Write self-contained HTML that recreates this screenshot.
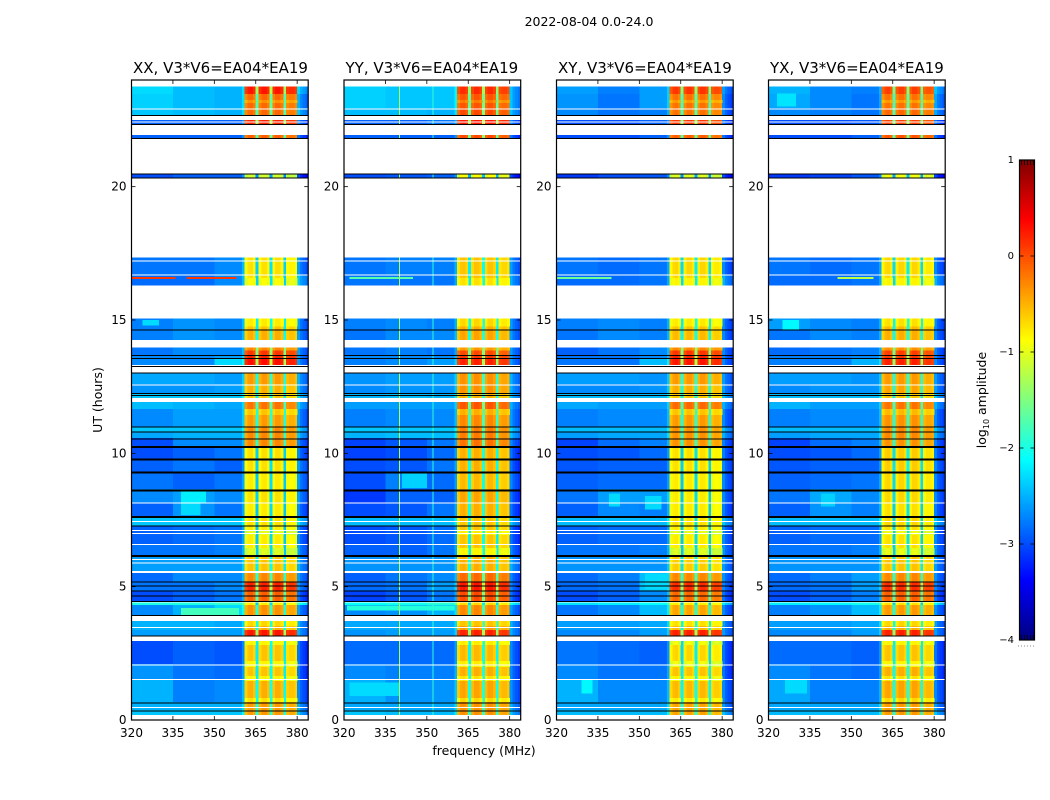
<!DOCTYPE html>
<html lang="en">
<head>
<meta charset="utf-8">
<title>2022-08-04 0.0-24.0 dynamic spectra</title>
<style>
html,body{margin:0;padding:0;background:#fff;}
body{width:1050px;height:800px;overflow:hidden;}
svg{display:block;font-family:"DejaVu Sans","Liberation Sans",sans-serif;fill:#000;}
</style>
</head>
<body>
<svg id="figure" xmlns="http://www.w3.org/2000/svg" width="1050" height="800" viewBox="0 0 1050 800">
  <text x="589" y="26" font-size="12.5" text-anchor="middle">2022-08-04 0.0-24.0</text>
  <text x="484" y="755" font-size="12.5" text-anchor="middle">frequency (MHz)</text>
  <text x="102" y="400" font-size="12.5" text-anchor="middle" transform="rotate(-90 102 400)">UT (hours)</text>
  <text x="986" y="400" font-size="12.5" text-anchor="middle" transform="rotate(-90 986 400)">log<tspan font-size="8" dy="3">10</tspan><tspan dy="-3"> amplitude</tspan></text>
  <g id="panels"></g>
  <g id="colorbar"></g>
  <line x1="1018" y1="646" x2="1035" y2="646" stroke="#888" stroke-width="1" stroke-dasharray="1 2"></line>
</svg>
<script>
// ---- chart data ----
const panelTitles = ["XX, V3*V6=EA04*EA19", "YY, V3*V6=EA04*EA19", "XY, V3*V6=EA04*EA19", "YX, V3*V6=EA04*EA19"];
const xTickLabels = [320, 335, 350, 365, 380];
const yTickLabels = [0, 5, 10, 15, 20];
const colorbarTickLabels = [1, 0, -1, -2, -3, -4];

// time ranges (UT hours) that contain data; everything else is flagged and stays white
const bandStartUT = [23.79,23.48,22.95,22.5,21.94,20.49,17.35,16.70,15.06,14.66,13.97,13.69,13.58,13.03,12.6,12.26,11.93,11.66,10.99,10.8,10.58,10.28,9.79,9.3,8.66,8.14,7.65,7.28,6.6,6.11,5.51,5.18,4.84,4.46,4.31,3.71,3.38,2.96,2.1,1.54,0.68,0.38];
const bandEndUT = [23.48,22.95,22.69,22.35,21.83,20.33,16.70,16.29,14.66,14.25,13.69,13.58,13.31,12.6,12.26,12.08,11.66,10.99,10.8,10.58,10.28,9.79,9.3,8.66,8.14,7.65,7.28,6.6,6.19,5.59,5.18,4.84,4.46,4.31,3.92,3.38,3.13,2.1,1.54,0.68,0.38,0.19];

// log10 amplitude per band: [320-335, 335-350, 350-361, 361-380, 380-384 MHz]
const xxLevels = [
[-2.3,-2.45,-2.5,0.25,-2.6],[-2.35,-2.45,-2.5,-0.15,-2.8],[-2.4,-2.45,-2.5,-0.15,-2.7],[-2.9,-2.9,-2.9,0.2,-3],[-2.9,-2.9,-2.9,-0.1,-3.1],[-3,-2.9,-2.9,-1.1,-3.3],
[-2.8,-2.8,-2.7,-0.75,-2.9],[-2.85,-2.85,-2.7,-0.75,-2.7],[-2.75,-2.65,-2.7,-0.6,-2.9],[-2.75,-2.65,-2.7,-0.5,-2.9],[-2.8,-2.7,-2.7,0.1,-2.9],[-2.7,-2.7,-2.6,0.2,-2.9],[-2.7,-2.7,-2.3,0.3,-2.9],
[-2.55,-2.55,-2.6,-0.4,-2.8],[-2.65,-2.65,-2.6,-0.5,-2.8],[-2.4,-2.4,-2.4,-0.6,-2.6],[-2.45,-2.5,-2.55,-0.2,-2.7],[-2.7,-2.6,-2.6,-0.4,-2.9],[-2.4,-2.4,-2.4,-0.3,-2.6],[-2.55,-2.5,-2.5,-0.3,-2.7],[-3,-2.7,-2.7,-0.3,-3],
[-3,-2.9,-2.8,-0.75,-3],[-2.9,-2.8,-2.9,-0.75,-2.9],[-2.8,-2.9,-2.8,-0.8,-2.9],[-2.7,-2.6,-2.7,-0.75,-2.9],[-2.9,-2.65,-2.8,-0.8,-3],[-2.4,-2.4,-2.4,-0.75,-2.6],[-2.9,-2.85,-2.8,-0.8,-3],[-2.8,-2.8,-2.75,-0.8,-2.9],
[-2.6,-2.6,-2.6,-0.6,-2.8],[-2.85,-2.7,-2.7,-0.3,-2.9],[-2.8,-2.8,-2.7,0.2,-2.9],[-3,-2.9,-2.8,-0.1,-3.1],[-2,-2,-1.9,-0.8,-2.2],[-2.7,-2.5,-2.3,-0.35,-2.9],
[-2.5,-2.5,-2.55,-0.5,-2.8],[-2.6,-2.6,-2.6,0.25,-2.8],[-3,-2.9,-2.95,-0.6,-3.1],[-2.65,-2.8,-2.85,-0.6,-3.1],[-2.5,-2.75,-2.7,-0.5,-3],[-2.5,-2.5,-2.5,-0.4,-2.8],[-2.4,-2.4,-2.4,-0.4,-2.7]];
const yyLevels = [
[-2.35,-2.4,-2.4,0.15,-2.7],[-2.35,-2.4,-2.4,-0.05,-2.7],[-2.45,-2.45,-2.5,0,-2.7],[-2.9,-2.9,-2.8,0.25,-3],[-2.9,-2.9,-2.9,0,-3.1],[-3,-2.95,-2.9,-0.9,-3.3],
[-2.8,-2.75,-2.75,-0.6,-2.9],[-2.8,-2.8,-2.8,-0.6,-2.8],[-2.75,-2.7,-2.75,-0.5,-2.9],[-2.8,-2.7,-2.7,-0.45,-2.9],[-2.8,-2.75,-2.8,0,-2.9],[-2.7,-2.7,-2.7,0.1,-2.9],[-2.75,-2.7,-2.6,0.2,-2.9],
[-2.65,-2.6,-2.6,-0.35,-2.8],[-2.7,-2.65,-2.65,-0.35,-2.8],[-2.5,-2.45,-2.5,-0.5,-2.7],[-2.6,-2.6,-2.6,-0.05,-2.8],[-2.75,-2.7,-2.7,-0.3,-2.9],[-2.4,-2.4,-2.4,-0.25,-2.6],[-2.5,-2.45,-2.45,-0.25,-2.7],[-3.05,-2.95,-2.8,-0.2,-3],
[-3.05,-3,-2.85,-0.5,-3.1],[-3,-2.95,-2.8,-0.5,-3.1],[-3,-2.75,-2.85,-0.55,-3],[-3.1,-2.9,-2.9,-0.45,-3.1],[-3,-2.95,-2.8,-0.5,-3.1],[-2.45,-2.45,-2.45,-0.6,-2.7],[-3,-2.95,-2.85,-0.6,-3.1],[-2.9,-2.9,-2.8,-0.6,-3],
[-2.65,-2.65,-2.65,-0.5,-2.8],[-2.9,-2.8,-2.7,-0.15,-3],[-2.85,-2.8,-2.6,0.25,-3],[-3.05,-2.95,-2.8,0,-3.1],[-2.1,-2.05,-1.95,-0.7,-2.3],[-2.7,-2.65,-2.5,-0.3,-2.9],
[-2.55,-2.55,-2.55,-0.4,-2.8],[-2.65,-2.6,-2.6,0.2,-2.8],[-2.85,-2.85,-2.85,-0.55,-3],[-2.7,-2.75,-2.75,-0.5,-3],[-2.5,-2.65,-2.65,-0.45,-2.95],[-2.55,-2.55,-2.55,-0.35,-2.8],[-2.4,-2.45,-2.45,-0.35,-2.7]];
const xyLevels = [
[-2.6,-2.75,-2.6,0.1,-2.9],[-2.65,-2.8,-2.6,-0.2,-3],[-2.7,-2.8,-2.75,-0.2,-3],[-3,-3,-2.9,0.1,-3.1],[-3,-3,-2.9,-0.1,-3.1],[-3.1,-3,-2.95,-1.05,-3.3],
[-2.8,-2.85,-2.8,-0.7,-3],[-2.85,-2.85,-2.8,-0.7,-2.8],[-2.75,-2.7,-2.75,-0.6,-3],[-2.8,-2.7,-2.75,-0.55,-3],[-2.9,-2.8,-2.7,0.1,-3],[-2.8,-2.8,-2.7,0.2,-3],[-2.8,-2.8,-2.45,0.25,-3],
[-2.6,-2.6,-2.65,-0.4,-2.9],[-2.7,-2.7,-2.65,-0.5,-2.9],[-2.45,-2.45,-2.45,-0.6,-2.7],[-2.55,-2.6,-2.6,-0.15,-2.8],[-2.75,-2.7,-2.7,-0.4,-3],[-2.45,-2.45,-2.45,-0.35,-2.7],[-2.6,-2.55,-2.55,-0.35,-2.8],[-3.05,-2.85,-2.75,-0.35,-3.05],
[-3,-2.95,-2.85,-0.75,-3.05],[-2.95,-2.9,-2.9,-0.75,-3],[-2.9,-2.85,-2.85,-0.8,-3],[-2.8,-2.6,-2.6,-0.8,-3],[-2.9,-2.7,-2.75,-0.8,-3.05],[-2.45,-2.45,-2.45,-0.75,-2.7],[-2.9,-2.85,-2.85,-0.8,-3],[-2.8,-2.8,-2.75,-0.8,-2.95],
[-2.65,-2.65,-2.65,-0.65,-2.9],[-2.85,-2.75,-2.45,-0.3,-2.95],[-2.85,-2.8,-2.4,0.15,-3],[-3,-2.9,-2.7,-0.15,-3.1],[-2.25,-2.2,-2.1,-0.8,-2.5],[-2.8,-2.7,-2.45,-0.45,-3],
[-2.6,-2.6,-2.55,-0.55,-2.9],[-2.7,-2.7,-2.6,0.2,-2.9],[-2.8,-2.85,-2.9,-0.7,-3.1],[-2.7,-2.8,-2.8,-0.6,-3.1],[-2.5,-2.7,-2.7,-0.55,-3],[-2.55,-2.55,-2.55,-0.45,-2.9],[-2.45,-2.45,-2.45,-0.45,-2.7]];
const yxLevels = [
[-2.5,-2.7,-2.75,0.05,-2.7],[-2.55,-2.7,-2.8,-0.2,-2.85],[-2.7,-2.75,-2.8,-0.15,-2.85],[-3,-3,-2.95,0.05,-3.1],[-3,-3,-2.9,-0.05,-3.1],[-3.1,-3.05,-2.95,-0.95,-3.3],
[-2.8,-2.85,-2.8,-0.7,-3],[-2.85,-2.85,-2.8,-0.7,-2.8],[-2.6,-2.7,-2.75,-0.55,-3],[-2.8,-2.7,-2.75,-0.5,-3],[-2.85,-2.8,-2.75,0.05,-3],[-2.75,-2.75,-2.7,0.1,-3],[-2.75,-2.75,-2.5,0.2,-3],
[-2.6,-2.6,-2.65,-0.4,-2.9],[-2.7,-2.65,-2.65,-0.45,-2.9],[-2.45,-2.45,-2.45,-0.6,-2.7],[-2.5,-2.6,-2.6,-0.2,-2.8],[-2.75,-2.7,-2.7,-0.35,-3],[-2.45,-2.45,-2.45,-0.3,-2.7],[-2.6,-2.55,-2.55,-0.3,-2.8],[-3.05,-2.85,-2.75,-0.35,-3.05],
[-3,-2.95,-2.85,-0.65,-3.05],[-2.95,-2.9,-2.9,-0.65,-3],[-2.9,-2.85,-2.8,-0.7,-3],[-2.8,-2.55,-2.7,-0.7,-3],[-2.9,-2.65,-2.75,-0.75,-3.05],[-2.45,-2.45,-2.45,-0.7,-2.7],[-2.9,-2.85,-2.85,-0.75,-3],[-2.8,-2.8,-2.75,-0.75,-2.95],
[-2.65,-2.65,-2.65,-0.6,-2.9],[-2.85,-2.75,-2.6,-0.3,-2.95],[-2.85,-2.8,-2.6,0.15,-3],[-3,-2.9,-2.75,-0.1,-3.1],[-2.2,-2.15,-2.05,-0.75,-2.4],[-2.75,-2.65,-2.45,-0.4,-2.95],
[-2.6,-2.6,-2.55,-0.5,-2.9],[-2.7,-2.7,-2.6,0.2,-2.9],[-2.85,-2.85,-2.9,-0.6,-3.1],[-2.7,-2.8,-2.85,-0.5,-3.1],[-2.55,-2.75,-2.75,-0.45,-3],[-2.55,-2.55,-2.55,-0.4,-2.9],[-2.45,-2.45,-2.45,-0.4,-2.7]];

// per-channel offset, one entry per MHz from 320 to 383 (sub-band roll-off and notches)
const channelOffset = [
0,0,0,0,0,0,0,0,0,0,0,0,0,0,0,0,0,0,0,0,
0,0,0,0,0,0,0,0,0,0,0,0,0,0,0,0,0,0,0,0,
0.25,-0.15,0,0.03,-0.08,-1.6,-0.1,0.03,0.03,-0.08,-1.5,-0.1,0.03,0.03,-0.08,-1.6,-0.15,-0.08,-0.08,-0.15,
0.3,0.1,0,-0.1];

// time spans where the in-band blocks drop to yellow: [UT start, UT end, offset]
const inbandDips = [[23.25,23.14,-0.2],[16.58,16.3,-0.15],[15.06,14.75,-0.2],[13.97,13.86,-0.4],[11.66,11.44,-0.2],[7.13,6.94,-0.2],[6.45,6.19,-0.25],[3.71,3.53,-0.2],[2.96,2.81,-0.25],[2.21,1.99,-0.25],[1.65,1.46,-0.25],[0.82,0.68,-0.25]];

// localised features: [panel, UT start, UT end, MHz start, MHz end, log10 amplitude]
const featurePatches = [
[0,16.62,16.54,320,336,0.1],[0,16.62,16.54,340,358,0.1],[0,8.62,8.14,338,347,-2.2],[0,8.12,7.68,338,345,-2.3],[0,4.2,3.94,338,359,-1.8],[0,15,14.8,324,330,-2.3],
[1,16.62,16.54,322,345,-1.7],[1,9.3,8.7,341,350,-2.35],[1,4.3,4.1,321,360,-1.95],[1,1.4,0.9,322,340,-2.3],
[2,16.62,16.54,320,340,-1.6],[2,8.5,8,339,343,-2.3],[2,8.4,7.9,352,358,-2.3],[2,1.5,1,329,333,-2.15],[2,5.5,4.9,352,361,-2.3],
[3,16.62,16.54,345,358,-1.2],[3,15,14.6,325,331,-2.15],[3,8.5,8,339,344,-2.35],[3,1.5,1,326,334,-2.3],[3,23.5,23,323,330,-2.25]];

// single-row flags and edges (UT hours)
const whiteLinesUT = [23.79,22.94,22.44,17.24,16.7,13.31,12.59,8.15,7.46,7.13,7.02,6.6,6.03,5.91,4.44,3.48,2.09,1.53,0.48];
const blackThinUT = [22.69,22.35,21.83,20.5,20.34,14.65,13.69,13.58,13.28,13.03,12.27,12.19,11,10.82,10.56,7.29,5.19,5.04,4.85,4.66,4.47,3.94,3.16,0.66,0.36];
const blackThickUT = [10.28,9.8,9.31,8.65,7.65,6.19];

// narrow RFI channels seen in the YY panel (MHz) and their log10 amplitude
const yyRfiChannels = [340, 352];
const yyRfiLevels = [-1.3, -1.9];

// ---- layout ----
const NS = "http://www.w3.org/2000/svg";
const panelLefts = [131.5, 344, 556.5, 768.5];
const panelWidth = 176.7;
const plotTop = 80;
const plotBottom = 720;
const allLevels = [xxLevels, yyLevels, xyLevels, yxLevels];
const freqMin = 320, freqMax = 384, utMin = 0, utMax = 24;
const cbTop = 160, cbBottom = 640, cbLeft = 1019.5, cbRight = 1034.5;

function xScale(p, mhz) { return panelLefts[p] + (mhz - freqMin) / (freqMax - freqMin) * panelWidth; }
function yScale(ut) { return plotBottom - (ut - utMin) / (utMax - utMin) * (plotBottom - plotTop); }
function cbScale(v) { return cbBottom - (v + 4) / 5 * (cbBottom - cbTop); }
function clamp01(v) { return Math.max(0, Math.min(1, v)); }
function jet(v) {
  const t = clamp01((v + 4) / 5);
  const r = clamp01(Math.min(4 * t - 1.5, -4 * t + 4.5));
  const g = clamp01(Math.min(4 * t - 0.5, -4 * t + 3.5));
  const b = clamp01(Math.min(4 * t + 0.5, -4 * t + 2.5));
  return "rgb(" + Math.round(r * 255) + "," + Math.round(g * 255) + "," + Math.round(b * 255) + ")";
}
function zoneIndex(mhz) {
  if (mhz < 335) return 0;
  if (mhz < 350) return 1;
  if (mhz < 361) return 2;
  if (mhz < 380) return 3;
  return 4;
}
function bandAt(ut) {
  for (let b = 0; b < bandStartUT.length; b++) {
    if (ut <= bandStartUT[b] && ut >= bandEndUT[b]) return b;
  }
  return -1;
}
function makeEl(tag, parent, attrs) {
  const el = document.createElementNS(NS, tag);
  for (const k in attrs) el.setAttribute(k, attrs[k]);
  parent.appendChild(el);
  return el;
}

const panelsRoot = document.getElementById("panels");

panelTitles.forEach(function (title, p) {
  const g = makeEl("g", panelsRoot, {});
  
  

  const levels = allLevels[p];
  const x0 = panelLefts[p], x1 = x0 + panelWidth;
  const cells = makeEl("g", g, { "shape-rendering": "crispEdges" });
  
  

  // heatmap cells
  bandStartUT.forEach(function (start, b) {
    const top = yScale(start), bot = yScale(bandEndUT[b]);
    channelOffset.forEach(function (off, c) {
      const mhz = freqMin + c;
      const value = levels[b][zoneIndex(mhz)] + off;
      const rect = makeEl("rect", cells, {
        x: xScale(p, mhz).toFixed(2), y: top.toFixed(2),
        width: (xScale(p, mhz + 1) - xScale(p, mhz) + 0.4).toFixed(2),
        height: (bot - top).toFixed(2), fill: jet(value)
      });
      
      
    });
  });

  // in-band yellow rows
  inbandDips.forEach(function (dip) {
    const b = bandAt((dip[0] + dip[1]) / 2);
    if (b < 0) return;
    channelOffset.forEach(function (off, c) {
      const mhz = freqMin + c;
      if (zoneIndex(mhz) !== 3 || off < -1) return;
      const rect = makeEl("rect", cells, {
        x: xScale(p, mhz).toFixed(2), y: yScale(dip[0]).toFixed(2),
        width: (xScale(p, mhz + 1) - xScale(p, mhz) + 0.4).toFixed(2),
        height: (yScale(dip[1]) - yScale(dip[0])).toFixed(2),
        fill: jet(levels[b][3] + off + dip[2])
      });
      
      
    });
  });

  // localised features
  featurePatches.forEach(function (f) {
    if (f[0] !== p) return;
    const rect = makeEl("rect", cells, {
      x: xScale(p, f[3]).toFixed(2), y: yScale(f[1]).toFixed(2),
      width: (xScale(p, f[4]) - xScale(p, f[3])).toFixed(2),
      height: (yScale(f[2]) - yScale(f[1])).toFixed(2), fill: jet(f[5])
    });
    
    
  });

  // narrow RFI channels in YY
  if (p === 1) {
    yyRfiChannels.forEach(function (mhz, k) {
      bandStartUT.forEach(function (start, b) {
        const rect = makeEl("rect", cells, {
          x: xScale(p, mhz).toFixed(2), y: yScale(start).toFixed(2), width: 1,
          height: (yScale(bandEndUT[b]) - yScale(start)).toFixed(2), fill: jet(yyRfiLevels[k])
        });
        
        
      });
    });
  }

  // flagged rows and edges
  whiteLinesUT.forEach(function (ut) {
    const line = makeEl("rect", cells, { x: x0, y: yScale(ut).toFixed(2), width: panelWidth, height: 1, fill: "#fff" });
    
    
  });
  blackThinUT.forEach(function (ut) {
    const line = makeEl("rect", cells, { x: x0, y: yScale(ut).toFixed(2), width: panelWidth, height: 1, fill: "#000" });
    
    
  });
  blackThickUT.forEach(function (ut) {
    const line = makeEl("rect", cells, { x: x0, y: yScale(ut).toFixed(2), width: panelWidth, height: 2, fill: "#000" });
    
    
  });

  // frame
  const frame = makeEl("rect", g, { x: x0, y: plotTop, width: panelWidth, height: plotBottom - plotTop, fill: "none", stroke: "#000", "stroke-width": 1.2 });
  
  

  // x ticks
  xTickLabels.forEach(function (mhz) {
    const x = xScale(p, mhz);
    const bt = makeEl("line", g, { x1: x, x2: x, y1: plotBottom, y2: plotBottom - 4, stroke: "#000", "stroke-width": 0.8 });
    
    
    const tt = makeEl("line", g, { x1: x, x2: x, y1: plotTop, y2: plotTop + 4, stroke: "#000", "stroke-width": 0.8 });
    
    
    const label = makeEl("text", g, { x: x, y: 737, "font-size": 12, "text-anchor": "middle" });
    label.textContent = mhz;
    
    
  });

  // y ticks
  yTickLabels.forEach(function (ut) {
    const y = yScale(ut);
    const lt = makeEl("line", g, { x1: x0, x2: x0 + 4, y1: y, y2: y, stroke: "#000", "stroke-width": 0.8 });
    
    
    const rt = makeEl("line", g, { x1: x1, x2: x1 - 4, y1: y, y2: y, stroke: "#000", "stroke-width": 0.8 });
    
    
    const label = makeEl("text", g, { x: x0 - 5, y: y + 4, "font-size": 12, "text-anchor": "end" });
    label.textContent = ut;
    
    
  });

  const titleEl = makeEl("text", g, { x: x0 + 1.5, y: 73, "font-size": 15 });
  titleEl.textContent = title;
  
  
});

// ---- colorbar ----
const cbRoot = document.getElementById("colorbar");
const cbStops = makeEl("g", cbRoot, { "shape-rendering": "crispEdges" });


for (let py = cbTop; py < cbBottom; py += 2) {
  const v = 1 - (py + 1 - cbTop) / (cbBottom - cbTop) * 5;
  const rect = makeEl("rect", cbStops, { x: cbLeft, y: py, width: cbRight - cbLeft, height: 2.2, fill: jet(v) });
  
  
}
const cbFrame = makeEl("rect", cbRoot, { x: cbLeft, y: cbTop, width: cbRight - cbLeft, height: cbBottom - cbTop, fill: "none", stroke: "#000", "stroke-width": 1.2 });


colorbarTickLabels.forEach(function (v) {
  const y = cbScale(v);
  const a = makeEl("line", cbRoot, { x1: cbLeft, x2: cbLeft + 4, y1: y, y2: y, stroke: "#000", "stroke-width": 0.8 });
  
  
  const c = makeEl("line", cbRoot, { x1: cbRight, x2: cbRight - 4, y1: y, y2: y, stroke: "#000", "stroke-width": 0.8 });
  
  
  const label = makeEl("text", cbRoot, { x: 1014, y: y + 3, "font-size": 10, "text-anchor": "end" });
  label.textContent = String(v).replace("-", "\u2212");
  
  
});
for (let i = 0; i < 5; i++) {
  const x = cbLeft + 2 + i * 3;
  const t = makeEl("line", cbRoot, { x1: x, x2: x, y1: cbTop, y2: cbTop + 5, stroke: "#000", "stroke-width": 0.8 });
  
  
  const u = makeEl("line", cbRoot, { x1: x, x2: x, y1: cbBottom, y2: cbBottom - 5, stroke: "#000", "stroke-width": 0.8 });
  
  
}
</script>
</body>
</html>
